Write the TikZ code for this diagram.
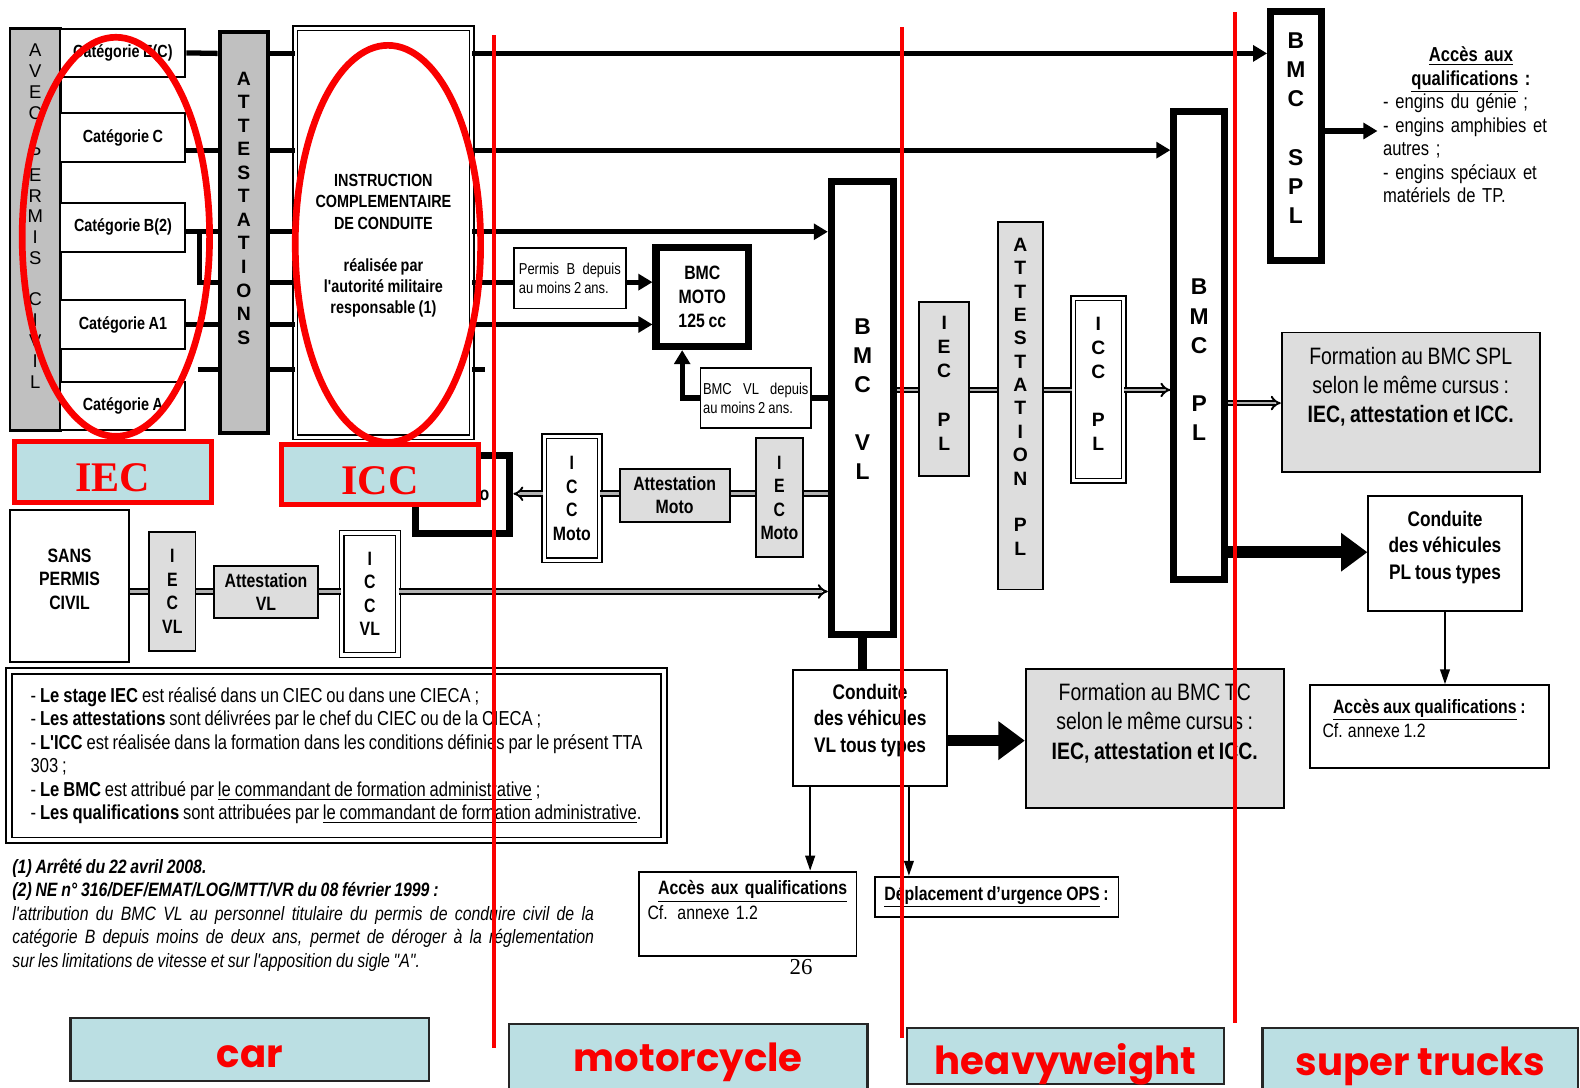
\documentclass[tikz,border=0pt]{standalone}
\usepackage{fontspec}
\setmainfont{Liberation Sans}
\newfontfamily\narrowfont{Liberation Sans}[FakeStretch=0.82, WordSpace=0.85]
\newfontfamily\seriffont{Liberation Serif}
\newfontfamily\tagfont{Poppins}
\usetikzlibrary{arrows.meta}

\definecolor{bargrey}{RGB}{192,192,192}
\definecolor{boxgrey}{RGB}{221,221,221}
\definecolor{tagblue}{RGB}{187,223,227}
\definecolor{markred}{RGB}{250,0,0}

\newcommand{\pxu}{0.020153cm}
\newcommand{\fsz}[2]{\fontsize{#1}{#2}\selectfont}
\newcommand{\cstack}[2]{\raisebox{#1}[\height][\depth]{\begin{tabular}{@{}c@{}}#2\end{tabular}}}
\newcommand{\lstack}[2]{\raisebox{#1}[\height][\depth]{\begin{tabular}{@{}l@{}}#2\end{tabular}}}
\newcommand{\blk}[7]{\node[#2, minimum width={(#5-#3)*\pxu}, minimum height={(#6-#4)*\pxu}] (#1) at ({(#3+#5)/2},{(#4+#6)/2}) {#7};}

\tikzset{
	box/.style={draw, line width=1.1pt, fill=white, align=center, inner sep=1pt, font=\narrowfont\bfseries\fsz{11}{13.4}},
	greybox/.style={box, fill=boxgrey},
	dblbox/.style={box, double, double distance=1.8pt, line width=0.8pt},
	bmcbox/.style={box, line width=4pt, font=\bfseries\fsz{13}{16.6}},
	barbox/.style={box, line width=1.5pt, fill=bargrey},
	catbox/.style={box, font=\narrowfont\bfseries\fsz{10}{12}},
	notebox/.style={box, line width=0.9pt, align=left, font=\narrowfont\fsz{9}{10.8}},
	formbox/.style={box, fill=boxgrey, font=\narrowfont\fsz{13.5}{16.6}},
	accbox/.style={box, font=\narrowfont\fsz{11}{13.7}},
	conn/.style={line width=3pt},
	connarrow/.style={conn, -{Triangle[length=8pt,width=9pt]}},
	dblconn/.style={double=white!70!black, double distance=1.6pt, line width=1.1pt},
	dblarrow/.style={dblconn, -{Implies[length=9pt,width=12pt]}},
	bigarrow/.style={line width=6.5pt, -{Triangle[length=15pt,width=21pt]}},
	thinarrow/.style={line width=1.1pt, -{Triangle[length=8.5pt,width=5.5pt]}},
	markup/.style={draw=markred, line width=3.8pt},
	redline/.style={draw=markred, line width=2.3pt},
	tag/.style={draw=markred, line width=2.8pt, fill=tagblue, text=markred, inner sep=0pt, font=\seriffont\bfseries\fsz{24}{24}},
	areatag/.style={draw=black!85, line width=1.3pt, fill=tagblue, text=markred, inner sep=0pt, font=\tagfont\bfseries\fsz{22}{22}},
}

\begin{document}
\begin{tikzpicture}[x=\pxu, y=-\pxu]
	\useasboundingbox (0,0) rectangle (1568,1079);

	\coordinate (yEC) at (0,53);
	\coordinate (yC) at (0,149);
	\coordinate (yB) at (0,230);
	\coordinate (yBm) at (0,280);
	\coordinate (yA1) at (0,322);
	\coordinate (yA) at (0,367);
	\coordinate (yVLd) at (0,395);
	\coordinate (yMoto) at (0,490);
	\coordinate (yVL) at (0,587);
	\coordinate (yPL) at (0,387);
	\coordinate (ySPLf) at (0,400);
	\coordinate (yPLc) at (0,548);
	\coordinate (ySPLq) at (0,130);
	\coordinate (yTC) at (0,735);
	\coordinate (brB) at (198,230);
	\coordinate (stubA) at (196,367);
	\coordinate (stubR) at (481,367);
	\coordinate (mx) at (677,0);
	\coordinate (axA) at (804,0);
	\coordinate (axD) at (902,0);

	\blk{avec}{barbox, font=\fsz{10.5}{11.8}}{10}{28}{60}{427}{\cstack{6pt}{A\\V\\E\\C\\[11.8pt]P\\E\\R\\M\\I\\S\\[11.8pt]C\\I\\V\\I\\L}}
	\blk{catEC}{catbox}{60}{29}{184}{76}{Catégorie E(C)}
	\blk{catC}{catbox}{60}{112}{184}{161}{Catégorie C}
	\blk{catB}{catbox}{60}{201}{184}{250}{Catégorie B(2)}
	\blk{catAa}{catbox}{60}{298}{184}{346}{Catégorie A1}
	\blk{catA}{catbox}{60}{379}{184}{427}{Catégorie A}
	\blk{att}{barbox, line width=2.3pt, font=\bfseries\fsz{11}{13.4}}{218}{32}{266}{430}{\cstack{13pt}{A\\T\\T\\E\\S\\T\\A\\T\\I\\O\\N\\S}}
	\blk{icc}{dblbox, font=\narrowfont\bfseries\fsz{10}{12}}{293}{28}{468}{434}{\cstack{-7.5pt}{INSTRUCTION\\COMPLEMENTAIRE\\DE CONDUITE\\[12pt]réalisée par\\l'autorité militaire\\responsable (1)}}

	\blk{permisB}{notebox}{510}{246}{621}{306}{\makebox[58pt][s]{Permis B depuis}\\au moins 2 ans.}
	\blk{moto}{bmcbox, font=\narrowfont\bfseries\fsz{11}{13.7}}{651}{246}{743}{344}{BMC\\MOTO\\125 cc}
	\blk{vldep}{notebox}{695}{365}{805}{425}{\makebox[60pt][s]{BMC VL depuis}\\au moins 2 ans.}
	\blk{bvl}{bmcbox}{825}{180}{887}{630}{\cstack{3.9pt}{B\\M\\C\\[16.6pt]V\\L}}

	\blk{iecm}{greybox}{750}{435}{797}{553}{I\\E\\C\\Moto}
	\blk{attm}{greybox}{615}{465}{724}{518}{Attestation\\Moto}
	\blk{iccm}{dblbox}{540}{433}{595}{556}{I\\C\\C\\Moto}
	\blk{bmoto}{box, line width=4pt}{412}{452}{506}{529}{\hspace*{9pt}Moto}

	\blk{sans}{box}{10}{506}{128}{657}{\cstack{2.7pt}{SANS\\PERMIS\\CIVIL}}
	\blk{iecvl}{greybox}{148}{528}{194}{646}{I\\E\\C\\VL}
	\blk{attvl}{greybox}{212}{562}{316}{613}{Attestation\\VL}
	\blk{iccvl}{dblbox}{339}{529}{395}{650}{I\\C\\C\\VL}

	\blk{iecpl}{greybox, font=\bfseries\fsz{11}{13.7}}{912}{300}{962}{472}{\cstack{2.2pt}{I\\E\\C\\[13.7pt]P\\L}}
	\blk{attpl}{greybox, font=\bfseries\fsz{11}{13.3}}{990}{220}{1035}{585}{\cstack{4pt}{A\\T\\T\\E\\S\\T\\A\\T\\I\\O\\N\\[13.3pt]P\\L}}
	\blk{iccpl}{dblbox, font=\bfseries\fsz{11}{13.7}}{1065}{296}{1115}{477}{\cstack{2.2pt}{I\\C\\C\\[13.7pt]P\\L}}
	\blk{bpl}{bmcbox}{1165}{111}{1215}{575}{\cstack{-9.3pt}{B\\M\\C\\[16.6pt]P\\L}}
	\blk{spl}{bmcbox}{1261}{11}{1311}{259}{\cstack{3.3pt}{B\\M\\C\\[16.6pt]S\\P\\L}}

	\node[font=\narrowfont\fsz{11.5}{13.4}, align=left, text width=100pt, inner xsep=3pt, inner ysep=0pt, anchor=north west] (qual) at (1367,46) {\makebox[\linewidth]{\bfseries\underline{Accès aux}}\\\makebox[\linewidth]{\bfseries\underline{qualifications}~:}\\- engins du génie ;\\- engins amphibies et\\autres ;\\- engins spéciaux et\\matériels de TP.};

	\blk{fspl}{formbox}{1272}{330}{1528}{468}{\cstack{8.3pt}{Formation au BMC SPL\\selon le même cursus :\\\bfseries IEC, attestation et ICC.}}
	\blk{cpl}{box, font=\narrowfont\bfseries\fsz{12}{15}}{1358}{492}{1510}{606}{\cstack{3.2pt}{Conduite\\des véhicules\\PL tous types}}
	\blk{apl}{accbox}{1300}{680}{1537}{762}{\lstack{3.3pt}{\multicolumn{1}{c}{\bfseries\underline{Accès aux qualifications}~:}\\Cf. annexe 1.2}}

	\blk{cvl}{box, font=\narrowfont\bfseries\fsz{12}{15}}{787}{665}{940}{780}{\cstack{4.3pt}{Conduite\\des véhicules\\VL tous types}}
	\blk{ftc}{formbox}{1018}{664}{1274}{802}{\cstack{8.3pt}{Formation au BMC TC\\selon le même cursus :\\\bfseries IEC, attestation et ICC.}}
	\blk{avl}{accbox, text width=114pt, align=left}{634}{865}{850}{949}{\lstack{6.8pt}{\multicolumn{1}{c}{\bfseries\underline{Accès aux qualifications}}\\Cf. annexe 1.2}}
	\blk{dep}{box, font=\narrowfont\bfseries\fsz{11}{13}}{868}{870}{1110}{910}{\underline{Déplacement d’urgence OPS}~:}

	\blk{notes}{dblbox, align=left, font=\narrowfont\fsz{11.5}{13.4}, line width=1pt, double distance=2.2pt}{9}{666}{659}{834}{- {\bfseries Le stage IEC} est réalisé dans un CIEC ou dans une CIECA ;\\- {\bfseries Les attestations} sont délivrées par le chef du CIEC ou de la CIECA ;\\- {\bfseries L'ICC} est réalisée dans la formation dans les conditions définies par le présent TTA\\303 ;\\- {\bfseries Le BMC} est attribué par \underline{le commandant de formation administrative} ;\\- {\bfseries Les qualifications} sont attribuées par \underline{le commandant de formation administrative}.}

	\node[font=\narrowfont\itshape\fsz{11}{13.4}, align=left, inner sep=0pt, anchor=north west] (foot) at (12,852) {{\bfseries (1) Arrêté du 22 avril 2008.}\\{\bfseries (2) NE n° 316/DEF/EMAT/LOG/MTT/VR du 08 février 1999 :}\\\makebox[331pt][s]{l'attribution du BMC VL au personnel titulaire du permis de conduire civil de la}\\\makebox[331pt][s]{catégorie B depuis moins de deux ans, permet de déroger à la réglementation}\\sur les limitations de vitesse et sur l'apposition du sigle "A".};
	\node[font=\seriffont\fsz{13}{13}] (page) at (795,960) {26};

	\draw[conn] (catEC.east) -- (att.west |- yEC);
	\draw[conn] (catC.east |- yC) -- (att.west |- yC);
	\draw[conn] (catB.east |- yB) -- (att.west |- yB);
	\draw[conn] (brB) |- (att.west |- yBm);
	\draw[conn] (catAa.east |- yA1) -- (att.west |- yA1);
	\draw[conn] (stubA) -- (att.west |- yA);
	\foreach \row in {yEC,yC,yB,yBm,yA1,yA}
		\draw[conn] (att.east |- \row) -- (icc.west |- \row);

	\draw[connarrow] (icc.east |- yEC) -- (spl.west |- yEC);
	\draw[connarrow] (icc.east |- yC) -- (bpl.west |- yC);
	\draw[connarrow] (icc.east |- yB) -- (bvl.west |- yB);
	\draw[conn] (icc.east |- yBm) -- (permisB.west |- yBm);
	\draw[connarrow] (permisB.east |- yBm) -- (moto.west |- yBm);
	\draw[connarrow] (icc.east |- yA1) -- (moto.west |- yA1);
	\draw[conn] (icc.east |- yA) -- (stubR);
	\draw[conn] (bvl.west |- yVLd) -- (vldep.east |- yVLd);
	\draw[connarrow] (vldep.west |- yVLd) -| (mx |- moto.south);

	\draw[dblconn] (bvl.west |- yMoto) -- (iecm.east |- yMoto);
	\draw[dblconn] (iecm.west |- yMoto) -- (attm.east |- yMoto);
	\draw[dblconn] (attm.west |- yMoto) -- (iccm.east |- yMoto);
	\draw[dblarrow] (iccm.west |- yMoto) -- (bmoto.east |- yMoto);

	\draw[dblconn] (sans.east |- yVL) -- (iecvl.west |- yVL);
	\draw[dblconn] (iecvl.east |- yVL) -- (attvl.west |- yVL);
	\draw[dblconn] (attvl.east |- yVL) -- (iccvl.west |- yVL);
	\draw[dblarrow] (iccvl.east |- yVL) -- (bvl.west |- yVL);

	\draw[dblconn] (bvl.east |- yPL) -- (iecpl.west |- yPL);
	\draw[dblconn] (iecpl.east |- yPL) -- (attpl.west |- yPL);
	\draw[dblconn] (attpl.east |- yPL) -- (iccpl.west |- yPL);
	\draw[dblarrow] (iccpl.east |- yPL) -- (bpl.west |- yPL);
	\draw[dblarrow] (bpl.east |- ySPLf) -- (fspl.west |- ySPLf);
	\draw[bigarrow] (bpl.east |- yPLc) -- (cpl.west |- yPLc);
	\draw[thinarrow] (cpl.south) -- (cpl.south |- apl.north);
	\draw[connarrow] (spl.east |- ySPLq) -- (qual.west |- ySPLq);

	\draw[line width=5pt] (bvl.south) -- (bvl.south |- cvl.north);
	\draw[bigarrow] (cvl.east |- yTC) -- (ftc.west |- yTC);
	\draw[thinarrow] (cvl.south -| axA) -- (avl.north -| axA);
	\draw[thinarrow] (cvl.south -| axD) -- (dep.north -| axD);

	\draw[markup] (115,235) ellipse [x radius=93, y radius=198];
	\draw[markup] (385,242) ellipse [x radius=92, y radius=197];
	\blk{iectag}{tag}{14}{438}{210}{499}{\raisebox{-3.4pt}[\height][\depth]{IEC}}
	\blk{icctag}{tag}{279}{441}{475}{501}{\raisebox{-3.4pt}[\height][\depth]{ICC}}

	\draw[redline] (490,35) -- (490,1040);
	\draw[redline] (895,27) -- (895,1030);
	\draw[redline] (1226,12) -- (1226,1015);

	\blk{cartag}{areatag}{70}{1010}{426}{1073}{\raisebox{-4pt}[\height][\depth]{car}}
	\blk{mototag}{areatag}{505}{1016}{861}{1086}{\raisebox{-2pt}[\height][\depth]{motorcycle}}
	\blk{heavytag}{areatag}{900}{1020}{1215}{1076}{\raisebox{-5pt}[\height][\depth]{heavyweight}}
	\blk{supertag}{areatag}{1253}{1020}{1566}{1086}{\raisebox{-3pt}[\height][\depth]{super trucks}}
\end{tikzpicture}
\end{document}
